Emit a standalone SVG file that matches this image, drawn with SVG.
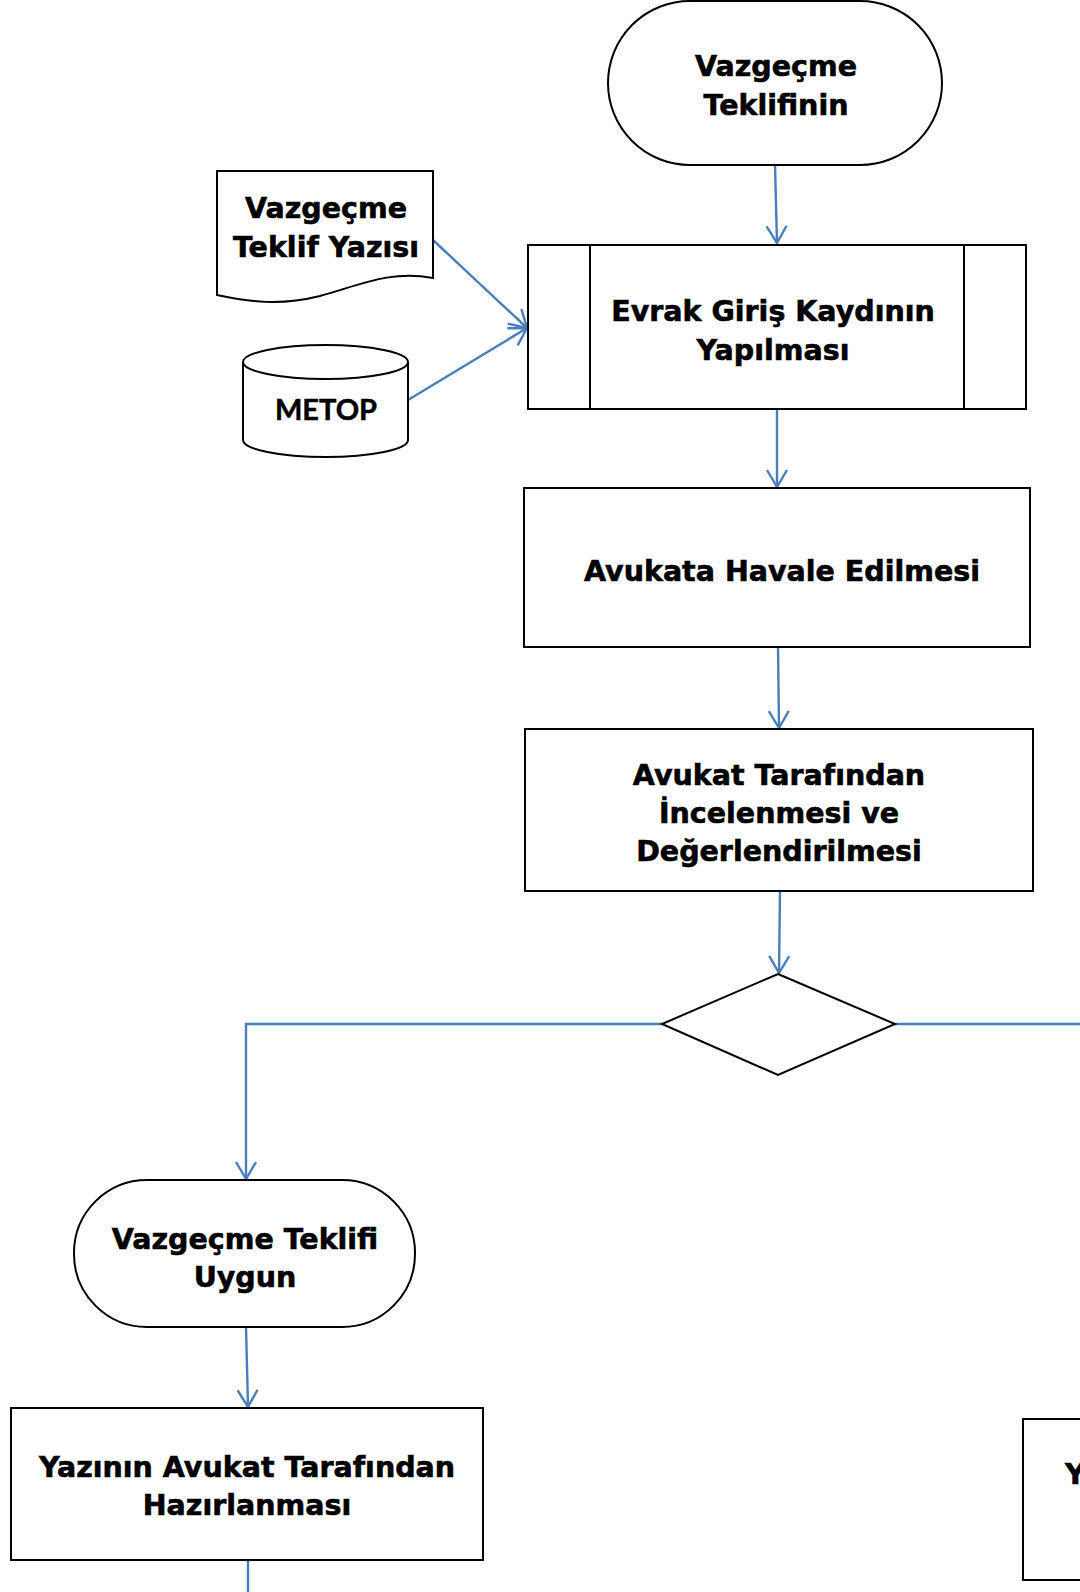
<svg xmlns="http://www.w3.org/2000/svg" width="1080" height="1592" viewBox="0 0 1080 1592">
<style>
.s{fill:#fff;stroke:#000;stroke-width:2}
.t{font-family:"DejaVu Sans",Verdana,sans-serif;font-weight:bold;font-size:28.5px;text-anchor:middle;fill:#000;stroke:#000;stroke-width:0.6}
.m{font-family:Lato,"Open Sans",sans-serif;font-weight:bold;font-size:29px;text-anchor:middle;fill:#000;stroke:#000;stroke-width:0.5}
.c{fill:none;stroke:#4A7EBB;stroke-width:2.4}
</style>
<defs>
<marker id="a" markerWidth="22" markerHeight="24" refX="18" refY="12" orient="auto" markerUnits="userSpaceOnUse">
<path d="M1,2 L18,12 L1,22" fill="none" stroke="#4A7EBB" stroke-width="2.4"/>
</marker>
</defs>
<rect width="1080" height="1592" fill="#fff"/>
<g id="connectors">
<path class="c" d="M775,165 L777,243" marker-end="url(#a)"/>
<path class="c" d="M433,240 L527,328" marker-end="url(#a)"/>
<path class="c" d="M408,400 L527,328" marker-end="url(#a)"/>
<path class="c" d="M777,409 L777,487" marker-end="url(#a)"/>
<path class="c" d="M778,647 L779,728" marker-end="url(#a)"/>
<path class="c" d="M780,891 L779,973" marker-end="url(#a)"/>
<path class="c" d="M662,1024 L246,1024 L246,1179" marker-end="url(#a)"/>
<path class="c" d="M895,1024 L1080,1024"/>
<path class="c" d="M246,1327 L248,1407" marker-end="url(#a)"/>
<path class="c" d="M248,1560 L248,1592"/>
</g>
<g id="start">
<rect class="s" x="608" y="1" width="334" height="164" rx="82" ry="82"/>
<text class="t" x="776" y="76">Vazgeçme</text>
<text class="t" x="776" y="115">Teklifinin</text>
</g>
<g id="document">
<path class="s" d="M217,171 L433,171 L433,278 C390,270 360,285 320,296 C280,306 250,302 217,295 Z"/>
<text class="t" x="326" y="218">Vazgeçme</text>
<text class="t" x="326" y="257">Teklif Yazısı</text>
</g>
<g id="metop">
<path class="s" d="M243,362 L243,440 A82.5,17 0 0 0 408,440 L408,362"/>
<ellipse class="s" cx="325.5" cy="362" rx="82.5" ry="17"/>
<text class="m" x="326" y="420">METOP</text>
</g>
<g id="evrak">
<rect class="s" x="528" y="245" width="498" height="164"/>
<line class="s" x1="590" y1="245" x2="590" y2="409"/>
<line class="s" x1="964" y1="245" x2="964" y2="409"/>
<text class="t" x="773" y="321">Evrak Giriş Kaydının</text>
<text class="t" x="773" y="360">Yapılması</text>
</g>
<g id="havale">
<rect class="s" x="524" y="488" width="506" height="159"/>
<text class="t" x="782" y="581">Avukata Havale Edilmesi</text>
</g>
<g id="inceleme">
<rect class="s" x="525" y="729" width="508" height="162"/>
<text class="t" x="779" y="785">Avukat Tarafından</text>
<text class="t" x="779" y="823">İncelenmesi ve</text>
<text class="t" x="779" y="861">Değerlendirilmesi</text>
</g>
<g id="karar">
<polygon class="s" points="778,974 895,1024 778,1075 662,1024"/>
</g>
<g id="uygun">
<rect class="s" x="74" y="1180" width="341" height="147" rx="73" ry="73"/>
<text class="t" x="245" y="1249">Vazgeçme Teklifi</text>
<text class="t" x="245" y="1287">Uygun</text>
</g>
<g id="yazi">
<rect class="s" x="11" y="1408" width="472" height="152"/>
<text class="t" x="247" y="1477">Yazının Avukat Tarafından</text>
<text class="t" x="247" y="1515">Hazırlanması</text>
</g>
<g id="sag">
<rect class="s" x="1023" y="1419" width="100" height="161"/>
<text class="t" x="1065" y="1484" style="text-anchor:start">Y</text>
</g>
</svg>
